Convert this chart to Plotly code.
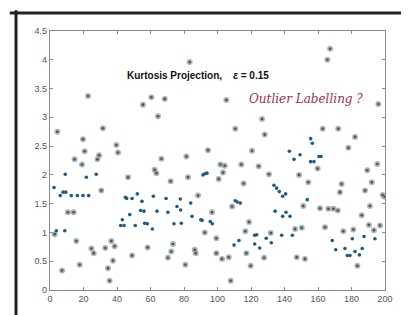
import plotly.graph_objects as go

# Gray "star" style points
gray_x = [22.7, 4.4, 31.6, 60.5, 55.5, 64.5, 19.7, 39.6, 20.7, 40.6, 14.7, 29.3, 28.3, 66.5, 19.1,
          30.6, 10.7, 14.1, 2.8, 15.7, 24.7, 26.1, 33.0, 36.6, 38.6, 37.6, 34.6, 35.6, 17.7, 7.2,
          46.6, 49.0, 58.3, 62.5, 63.5, 103.3, 100.7, 82.4, 72.0, 115.6, 130.7, 114.2, 124.6, 88.4,
          96.7, 108.7, 92.4, 99.3, 118.8, 116.6, 131.8, 73.4, 72.4, 70.4, 86.4, 87.0, 80.8, 99.3,
          102.7, 106.7, 117.2, 127.8, 119.8, 107.9, 159.8, 148.7, 154.2, 151.2, 161.2, 166.2, 169.2,
          171.8, 174.1, 173.1, 189.4, 195.4, 192.1, 188.1, 198.6, 191.0, 186.1, 190.4, 193.4, 197.0,
          181.1, 175.1, 164.2, 183.5, 147.3, 152.2, 146.3, 150.3, 83.4, 68.5, 105.3, 126.6, 110.6,
          128.2, 94.3, 120.6, 81.4, 167.2, 165.6, 196.0, 162.8, 172.1, 182.1, 178.1, 199.8, 101.7, 104.3]
gray_y = [3.37, 2.75, 2.81, 3.35, 3.22, 3.02, 2.62, 2.52, 2.41, 2.39, 2.27, 2.34, 2.27, 2.28, 2.18,
          1.73, 1.35, 1.35, 0.97, 0.85, 0.72, 0.64, 0.73, 0.85, 0.76, 0.51, 0.38, 0.16, 0.44, 0.34,
          1.96, 0.60, 0.74, 2.09, 2.03, 2.04, 1.93, 1.96, 1.89, 1.85, 2.01, 2.18, 2.15, 1.64,
          1.35, 1.45, 1.00, 0.90, 1.18, 1.02, 0.99, 0.80, 0.67, 0.56, 0.70, 0.64, 0.44, 0.64,
          0.54, 0.57, 0.64, 0.56, 0.42, 0.16, 2.11, 2.00, 1.87, 1.46, 1.42, 1.41, 1.41,
          1.38, 1.84, 1.70, 2.08, 2.19, 1.87, 1.73, 1.65, 1.46, 1.30, 1.13, 1.04, 1.12,
          1.05, 1.02, 1.09, 0.42, 0.57, 0.54, 1.06, 1.08, 3.96, 3.32, 3.30, 2.97, 2.80,
          2.70, 2.43, 2.42, 2.32, 4.19, 4.00, 3.23, 2.80, 2.80, 2.66, 2.47, 1.62, 2.18, 2.16]

# Blue "dot" style points
blue_x = [9.1, 21.7, 27.6, 2.4, 6.1, 7.8, 9.4, 12.7, 16.3, 19.7, 23.1, 3.8, 8.8, 45.0, 45.8, 49.0,
          52.1, 54.9, 54.1, 56.1, 47.6, 43.2, 42.2, 44.2, 50.9, 56.5, 58.1, 61.1, 61.7, 63.9, 69.3,
          77.8, 84.0, 70.4, 75.8, 78.0, 84.8, 90.0, 90.8, 95.7, 96.9, 74.0, 78.4, 91.3, 92.5, 93.7,
          110.6, 111.8, 113.6, 122.2, 123.4, 129.1, 112.8, 109.9, 122.2, 125.2, 132.1, 133.7, 135.3,
          136.9, 138.9, 140.7, 134.4, 140.9, 138.9, 143.3, 153.6, 194.0, 187.5, 180.5, 168.5, 170.6,
          176.1, 182.1, 186.4, 184.7, 179.1, 177.5, 138.3, 144.7, 145.7, 155.6, 157.6, 142.9, 149.3,
          160.6, 161.8, 155.6, 156.6]
blue_y = [2.01, 1.96, 2.01, 1.78, 1.64, 1.70, 1.70, 1.64, 1.64, 1.64, 1.64, 1.03, 1.03, 1.61, 1.59, 1.59,
          1.67, 1.54, 1.38, 1.37, 1.31, 1.22, 1.12, 1.12, 1.12, 1.16, 1.15, 1.06, 1.63, 1.37, 1.59,
          1.58, 1.51, 1.35, 1.45, 1.39, 1.28, 1.22, 1.21, 1.19, 1.15, 1.15, 1.16, 2.00, 2.02, 2.03,
          1.55, 1.53, 1.51, 0.95, 0.96, 0.90, 0.86, 0.78, 0.80, 0.73, 0.82, 1.82, 1.77,
          1.71, 1.63, 1.67, 1.37, 1.35, 1.28, 1.28, 1.57, 0.89, 0.93, 0.89, 0.86, 0.70,
          0.72, 0.67, 0.72, 0.61, 0.60, 0.60, 0.95, 0.95, 2.27, 2.23, 2.23, 2.41, 2.35,
          2.32, 2.32, 2.63, 2.55]

x_ticks = [0, 20, 40, 60, 80, 100, 120, 140, 160, 180, 200]
y_ticks = [0, 0.5, 1, 1.5, 2, 2.5, 3, 3.5, 4, 4.5]
y_tick_text = ["0", "0.5", "1", "1.5", "2", "2.5", "3", "3.5", "4", "4.5"]

title_text = "<b>Kurtosis Projection,\u00a0\u00a0\u00a0 <i>ε</i> = 0.15</b>"
label_text = "<i>Outlier Labelling ?</i>"

fig = go.Figure()
# halo of the blurred star markers
fig.add_trace(go.Scatter(
    x=gray_x, y=gray_y, mode="markers",
    marker=dict(size=6, color="rgba(150,158,160,0.75)", line=dict(width=0)),
    showlegend=False, hoverinfo="skip"))
# dark centre of the star markers
fig.add_trace(go.Scatter(
    x=gray_x, y=gray_y, mode="markers",
    marker=dict(size=2.6, color="#3e5560", line=dict(width=0)),
    showlegend=False, hoverinfo="skip"))
fig.add_trace(go.Scatter(
    x=blue_x, y=blue_y, mode="markers",
    marker=dict(size=3.6, color="#1d5b87", line=dict(width=0)),
    showlegend=False, hoverinfo="skip"))

axis_common = dict(
    showgrid=False, zeroline=False, showline=True, linecolor="#8a8a8a", linewidth=1.2,
    mirror="allticks", ticks="inside", ticklen=3, tickcolor="#8a8a8a",
    tickfont=dict(family="Liberation Sans", size=9, color="#555"))

fig.update_xaxes(range=[0, 200], tickvals=x_ticks, **axis_common)
fig.update_yaxes(range=[0, 4.5], tickvals=y_ticks, ticktext=y_tick_text, **axis_common)

fig.add_annotation(x=88.4, y=3.72, xref="x", yref="y", text=title_text, showarrow=False,
                   font=dict(family="Liberation Sans", size=10, color="#111"))
fig.add_annotation(x=153.0, y=3.32, xref="x", yref="y", text=label_text, showarrow=False,
                   font=dict(family="DejaVu Serif", size=12, color="#a03048"))

# Screenshot frame
fig.add_shape(type="line", xref="paper", yref="paper", x0=-0.12, x1=1.09, y0=1.0695, y1=1.0695,
              line=dict(color="#222", width=3))
fig.add_shape(type="line", xref="paper", yref="paper", x0=-0.1015, x1=-0.1015, y0=-0.13, y1=1.08,
              line=dict(color="#222", width=3))
fig.add_shape(type="line", xref="paper", yref="paper", x0=-0.1015, x1=1.09, y0=-0.1197, y1=-0.1197,
              line=dict(color="#bbb", width=2))
fig.add_shape(type="line", xref="paper", yref="paper", x0=1.0776, x1=1.0776, y0=-0.1197, y1=1.0695,
              line=dict(color="#ccc", width=2))

fig.update_layout(
    width=409, height=315,
    margin=dict(l=42, r=32, t=23, b=33),
    paper_bgcolor="white", plot_bgcolor="white",
)

fig.write_html("out.html")
